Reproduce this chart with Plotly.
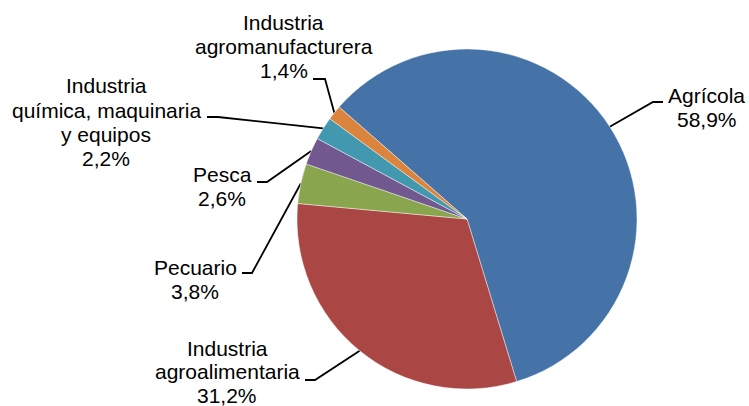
import math
import plotly.graph_objects as go

# ---- data ----
categories = ["Agrícola", "Industria agroalimentaria", "Pecuario", "Pesca",
              "Industria química, maquinaria y equipos", "Industria agromanufacturera"]
values = [58.9, 31.2, 3.8, 2.6, 2.2, 1.4]
label_lines = [["Agrícola"], ["Industria", "agroalimentaria"], ["Pecuario"], ["Pesca"],
               ["Industria", "química, maquinaria", "y equipos"], ["Industria", "agromanufacturera"]]
colors = ["#4572A7", "#AA4643", "#89A54E", "#71588F", "#4198AF", "#DB843D"]

# ---- layout (pixels) ----
W, H = 749, 406
CX, CY, R = 467, 219, 170
ROT = -48.8
FONT = 21
STEP = 23.8
label_cx = [706.5, 227, 195, 222, 106, 283.5]
label_base = [103, 356, 275, 182, 93, 30]
label_step = [STEP, 23.2, STEP, STEP, 24.4, 23.7]
# leader: (x near label, x elbow, y)
leaders = [(663, 653, 102), (305, 315, 380), (242, 252, 273), (257, 267, 182),
           (207, 218, 117), (313, 325, 79)]

fig = go.Figure()
fig.add_trace(go.Pie(
    labels=categories, values=values, sort=False, direction="clockwise",
    rotation=ROT, textinfo="none", textposition="none", hoverinfo="label+percent",
    marker=dict(colors=colors, line=dict(color="rgba(255,255,255,0.55)", width=0.8)),
    domain=dict(x=[(CX - R) / W, (CX + R) / W],
                y=[(H - CY - R) / H, (H - CY + R) / H]),
    showlegend=False,
))

total = sum(values)
cum = 0.0
annotations = []
for i, v in enumerate(values):
    mid = ROT + (cum + v / 2) / total * 360
    cum += v
    a = math.radians(mid)
    ex, ey = CX + R * math.sin(a), CY - R * math.cos(a)
    x0, x1, ly = leaders[i]
    fig.add_trace(go.Scatter(x=[x0, x1, ex], y=[ly, ly, ey], mode="lines",
                             line=dict(color="black", width=1.8),
                             hoverinfo="skip", showlegend=False, xaxis="x", yaxis="y"))
    lines = label_lines[i] + [f"{v:.1f}".replace(".", ",") + "%"]
    for k, t in enumerate(lines):
        annotations.append(dict(
            x=label_cx[i], y=label_base[i] + k * label_step[i] - 7.3, xref="x", yref="y",
            text=t, showarrow=False, xanchor="center", yanchor="middle",
            font=dict(family="Liberation Sans, Arial, sans-serif", size=FONT, color="black"),
        ))

fig.update_layout(
    width=W, height=H, margin=dict(l=0, r=0, t=0, b=0),
    paper_bgcolor="white", plot_bgcolor="rgba(0,0,0,0)",
    xaxis=dict(range=[0, W], visible=False, fixedrange=True),
    yaxis=dict(range=[H, 0], visible=False, fixedrange=True),
    annotations=annotations,
)
fig.write_html("out.html", config={"displayModeBar": False})

with open("out.html", encoding="utf-8") as f:
    html = f.read()
html = html.replace("<head>", "<head><style>html,body{margin:0;padding:0;overflow:hidden;}</style>", 1)
with open("out.html", "w", encoding="utf-8") as f:
    f.write(html)
